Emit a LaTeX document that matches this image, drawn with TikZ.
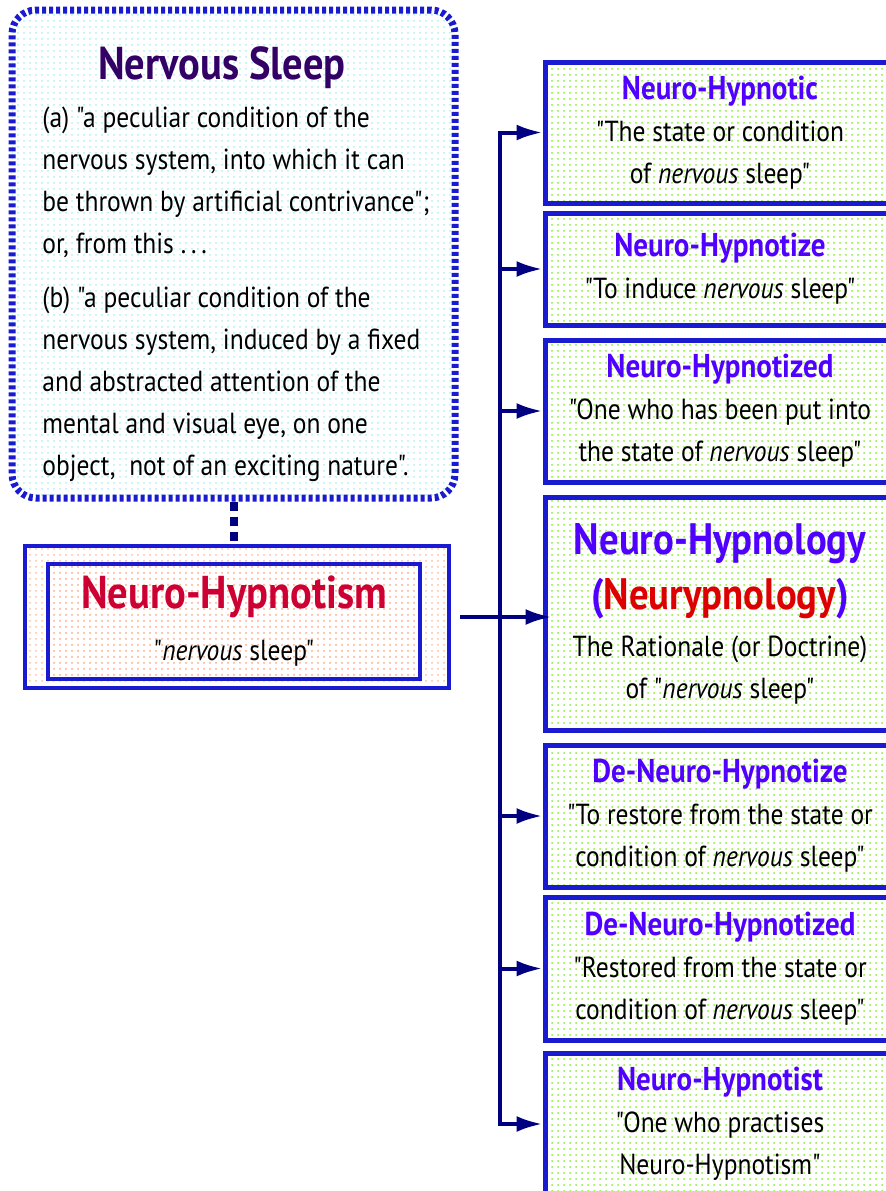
\documentclass[tikz,border=0pt]{standalone}
\usepackage{fontspec}
\setmainfont{PT Sans}[FakeStretch=0.88, Ligatures=TeXOff]
\usetikzlibrary{arrows.meta,patterns}
\definecolor{navy}{HTML}{000080}
\definecolor{edgeblue}{HTML}{1A1AD0}
\definecolor{sleeppurple}{HTML}{330066}
\definecolor{hypred}{HTML}{CC0033}
\definecolor{termviolet}{HTML}{5000FF}
\definecolor{neuryred}{HTML}{DD0000}
\definecolor{dotcyan}{HTML}{B0F0F0}
\definecolor{dotpeach}{HTML}{FFBFA0}
\definecolor{dotgreen}{HTML}{88EE33}
\newcommand{\bodyfont}{\fontsize{14.5}{21}\selectfont}
\newcommand{\term}[1]{\textcolor{termviolet}{\fontsize{16.5}{21}\selectfont\bfseries #1}}
\newcommand{\bigterm}[1]{{\fontsize{22}{21}\selectfont\bfseries #1}}
\tikzset{
  sleepbox/.style = {
    draw=edgeblue, line width=3.5pt, dash pattern=on 2pt off 1.5pt,
    rounded corners=12pt, pattern=dots, pattern color=dotcyan,
    minimum width=221.5pt, minimum height=244pt, inner sep=0pt
  },
  hypbox/.style = {
    draw=edgeblue, line width=2pt, pattern=dots, pattern color=dotpeach,
    inner sep=0pt
  },
  termbox/.style = {
    draw=edgeblue, line width=2.5pt, pattern=dots, pattern color=dotgreen,
    minimum width=175pt, inner sep=0pt, align=center, font=\bodyfont
  },
  link/.style = {draw=navy, line width=2pt},
  tie/.style = {draw=navy, line width=4pt, dash pattern=on 4.5pt off 3pt},
  >={Latex[length=13pt,width=8pt]}
}

\begin{document}
\begin{tikzpicture}[x=0.5pt,y=-0.5pt]
  \useasboundingbox (0,0) rectangle (886,1191);
  \clip (0,0) rectangle (886,1191);

  % definition box
  \node[sleepbox] (sleep) at (233.5,254) {};
  \node[text=sleeppurple, font=\fontsize{23}{24}\selectfont\bfseries]
    (sleeptitle) at (222,68) {Nervous Sleep};
  \node[anchor=north west, align=left, inner sep=0pt, font=\bodyfont]
    (sleeptext) at (42,106) {%
    (a) "a peculiar condition of the\\
    nervous system, into which it can\\
    be thrown by artificial contrivance";\\
    or, from this .\,.\,.\\[6pt]
    (b) "a peculiar condition of the\\
    nervous system, induced by a fixed\\
    and abstracted attention of the\\
    mental and visual eye, on one\\
    object,\ \ not of an exciting nature".};

  % the main term
  \node[hypbox, minimum width=212pt, minimum height=71pt] (hypouter) at (237,617) {};
  \node[hypbox, minimum width=186pt, minimum height=57.5pt, align=center,
    font=\bodyfont] (hyp) at (234,621)
    {\textcolor{hypred}{\fontsize{23}{24}\selectfont\bfseries Neuro-Hypnotism}\\[5pt]
     "\textit{nervous} sleep"};
  \draw[tie] (sleep.south) -- (sleep.south |- hypouter.north);

  % derived terms
  \node[termbox, minimum height=70.5pt] (b1) at (720,132.5)
    {\term{Neuro-Hypnotic}\\ "The state or condition\\ of \textit{nervous} sleep"};
  \node[termbox, minimum height=56pt] (b2) at (720,269)
    {\term{Neuro-Hypnotize}\\ "To induce \textit{nervous} sleep"};
  \node[termbox, minimum height=71pt] (b3) at (720,411)
    {\term{Neuro-Hypnotized}\\ "One who has been put into\\ the state of \textit{nervous} sleep"};
  \node[termbox, minimum height=116.5pt] (b4) at (720,613.5)
    {\textcolor{termviolet}{\bigterm{Neuro-Hypnology}}\\[6.5pt]
     \textcolor{termviolet}{\bigterm{(\textcolor{neuryred}{Neurypnology})}}\\[2.5pt]
     The Rationale (or Doctrine)\\ of "\textit{nervous} sleep"};
  \node[termbox, minimum height=71pt] (b5) at (720,816)
    {\term{De-Neuro-Hypnotize}\\ "To restore from the state or\\ condition of \textit{nervous} sleep"};
  \node[termbox, minimum height=71.5pt] (b6) at (720,968.5)
    {\term{De-Neuro-Hypnotized}\\ "Restored from the state or\\ condition of \textit{nervous} sleep"};
  \node[termbox, minimum height=71pt] (b7) at (720,1124)
    {\term{Neuro-Hypnotist}\\ "One who practises\\ Neuro-Hypnotism"};

  % connectors
  \coordinate (tk) at (500,0);
  \draw[link, line cap=rect] (b1.west -| tk) -- (b7.west -| tk);
  \foreach \i in {1,2,3,5,6,7}
    \draw[link,->] (b\i.west -| tk) -- (b\i.west);
  \draw[link,->] ([xshift=4.5pt]hypouter.east) -- ([xshift=4.5pt]hypouter.east -| b4.west);
\end{tikzpicture}
\end{document}
